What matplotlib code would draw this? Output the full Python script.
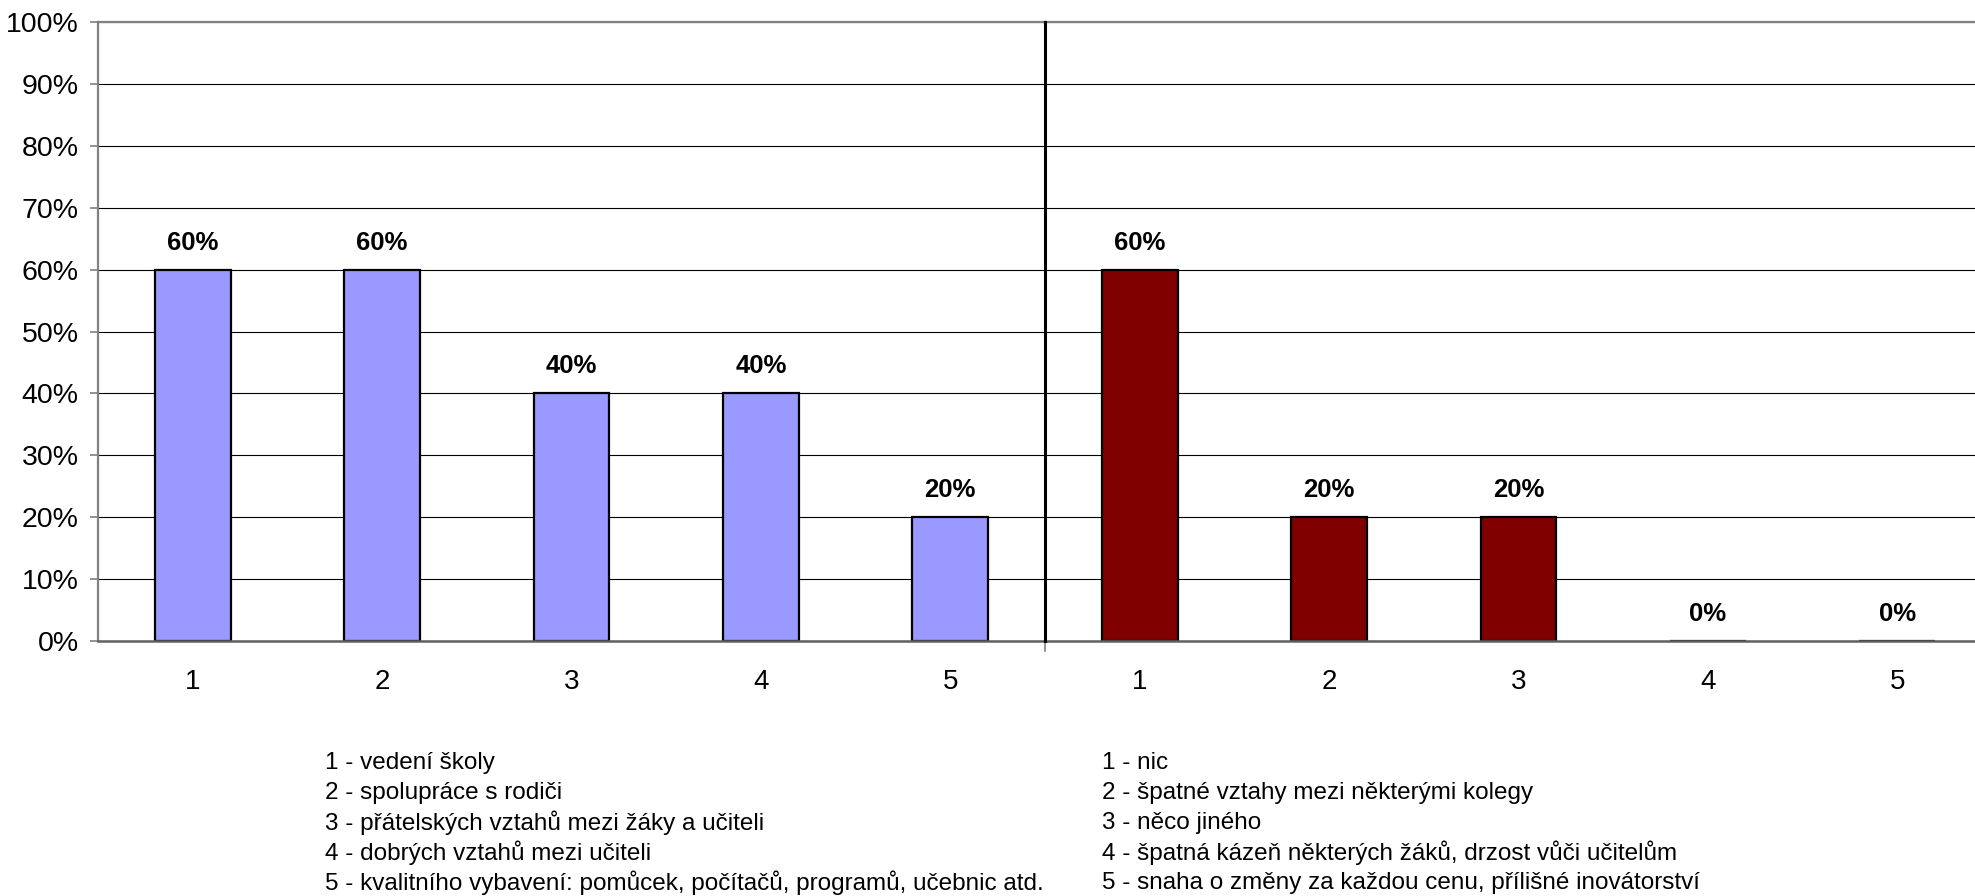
import numpy as np
import matplotlib
matplotlib.use("Agg")
import matplotlib.pyplot as plt
from matplotlib.ticker import FuncFormatter

plt.rcParams["font.family"] = ["Liberation Sans", "DejaVu Sans"]

categories = ["1", "2", "3", "4", "5"]
left_values = [60, 60, 40, 40, 20]
right_values = [60, 20, 20, 0, 0]
left_legend = [
    "1 - vedení školy",
    "2 - spolupráce s rodiči",
    "3 - přátelských vztahů mezi žáky a učiteli",
    "4 - dobrých vztahů mezi učiteli",
    "5 - kvalitního vybavení: pomůcek, počítačů, programů, učebnic atd.",
]
right_legend = [
    "1 - nic",
    "2 - špatné vztahy mezi některými kolegy",
    "3 - něco jiného",
    "4 - špatná kázeň některých žáků, drzost vůči učitelům",
    "5 - snaha o změny za každou cenu, přílišné inovátorství",
]

W, H = 1975, 896
fig = plt.figure(figsize=(W / 100, H / 100), dpi=100)

# both panels have the same width; the right one runs past the figure edge
x0, xm = 98 / W, 1045 / W
pw = xm - x0
y0, y1 = 1 - 641 / H, 1 - 22 / H
ax1 = fig.add_axes([x0, y0, pw, y1 - y0])
ax2 = fig.add_axes([xm, y0, pw, y1 - y0])


def draw_panel(ax, values, color):
    x = np.arange(len(categories))
    ax.set_axisbelow(True)
    ax.yaxis.grid(True, color="black", linewidth=0.8)
    ax.bar(x, values, width=0.4, color=color, edgecolor="black", linewidth=1.6)
    for xi, v in zip(x, values):
        ax.annotate(f"{v}%", (xi, v), xytext=(0, 19.5), textcoords="offset points",
                    ha="center", va="center", fontsize=18.5, fontweight="bold")
    ax.set_xlim(-0.5, len(categories) - 0.5)
    ax.set_ylim(0, 100)
    ax.set_yticks(np.arange(0, 101, 10))
    ax.set_xticks(x)
    ax.set_xticklabels(categories, fontsize=20)
    ax.tick_params(axis="x", length=0, pad=20)
    ax.spines["right"].set_visible(False)
    ax.spines["top"].set_color("#808080")
    ax.spines["top"].set_linewidth(1.6)
    ax.spines["bottom"].set_color("#606060")
    ax.spines["bottom"].set_linewidth(1.8)


draw_panel(ax1, left_values, "#9999FF")
draw_panel(ax2, right_values, "#800000")

ax1.yaxis.set_major_formatter(FuncFormatter(lambda v, _: f"{v:.0f}%"))
ax1.tick_params(axis="y", labelsize=20.5, length=6, width=1.2, color="#808080", pad=8)
ax1.spines["left"].set_color("#808080")
ax1.spines["left"].set_linewidth(1.6)

ax2.tick_params(axis="y", left=False, labelleft=False)
ax2.spines["left"].set_visible(False)
# panel divider
ax2.axvline(-0.5, ymin=0, ymax=1, color="black", linewidth=2.2, zorder=5, clip_on=False)
ax2.axvline(-0.5, ymin=-0.016, ymax=0, color="#808080", linewidth=1.2, clip_on=False)

line_y = [763, 793, 823, 853, 883]
for txt, yy in zip(left_legend, line_y):
    fig.text(325 / W, 1 - yy / H, txt, fontsize=17.5, va="center", ha="left")
for txt, yy in zip(right_legend, line_y):
    fig.text(1102 / W, 1 - yy / H, txt, fontsize=17.5, va="center", ha="left")

fig.savefig("out.png", dpi=100)
